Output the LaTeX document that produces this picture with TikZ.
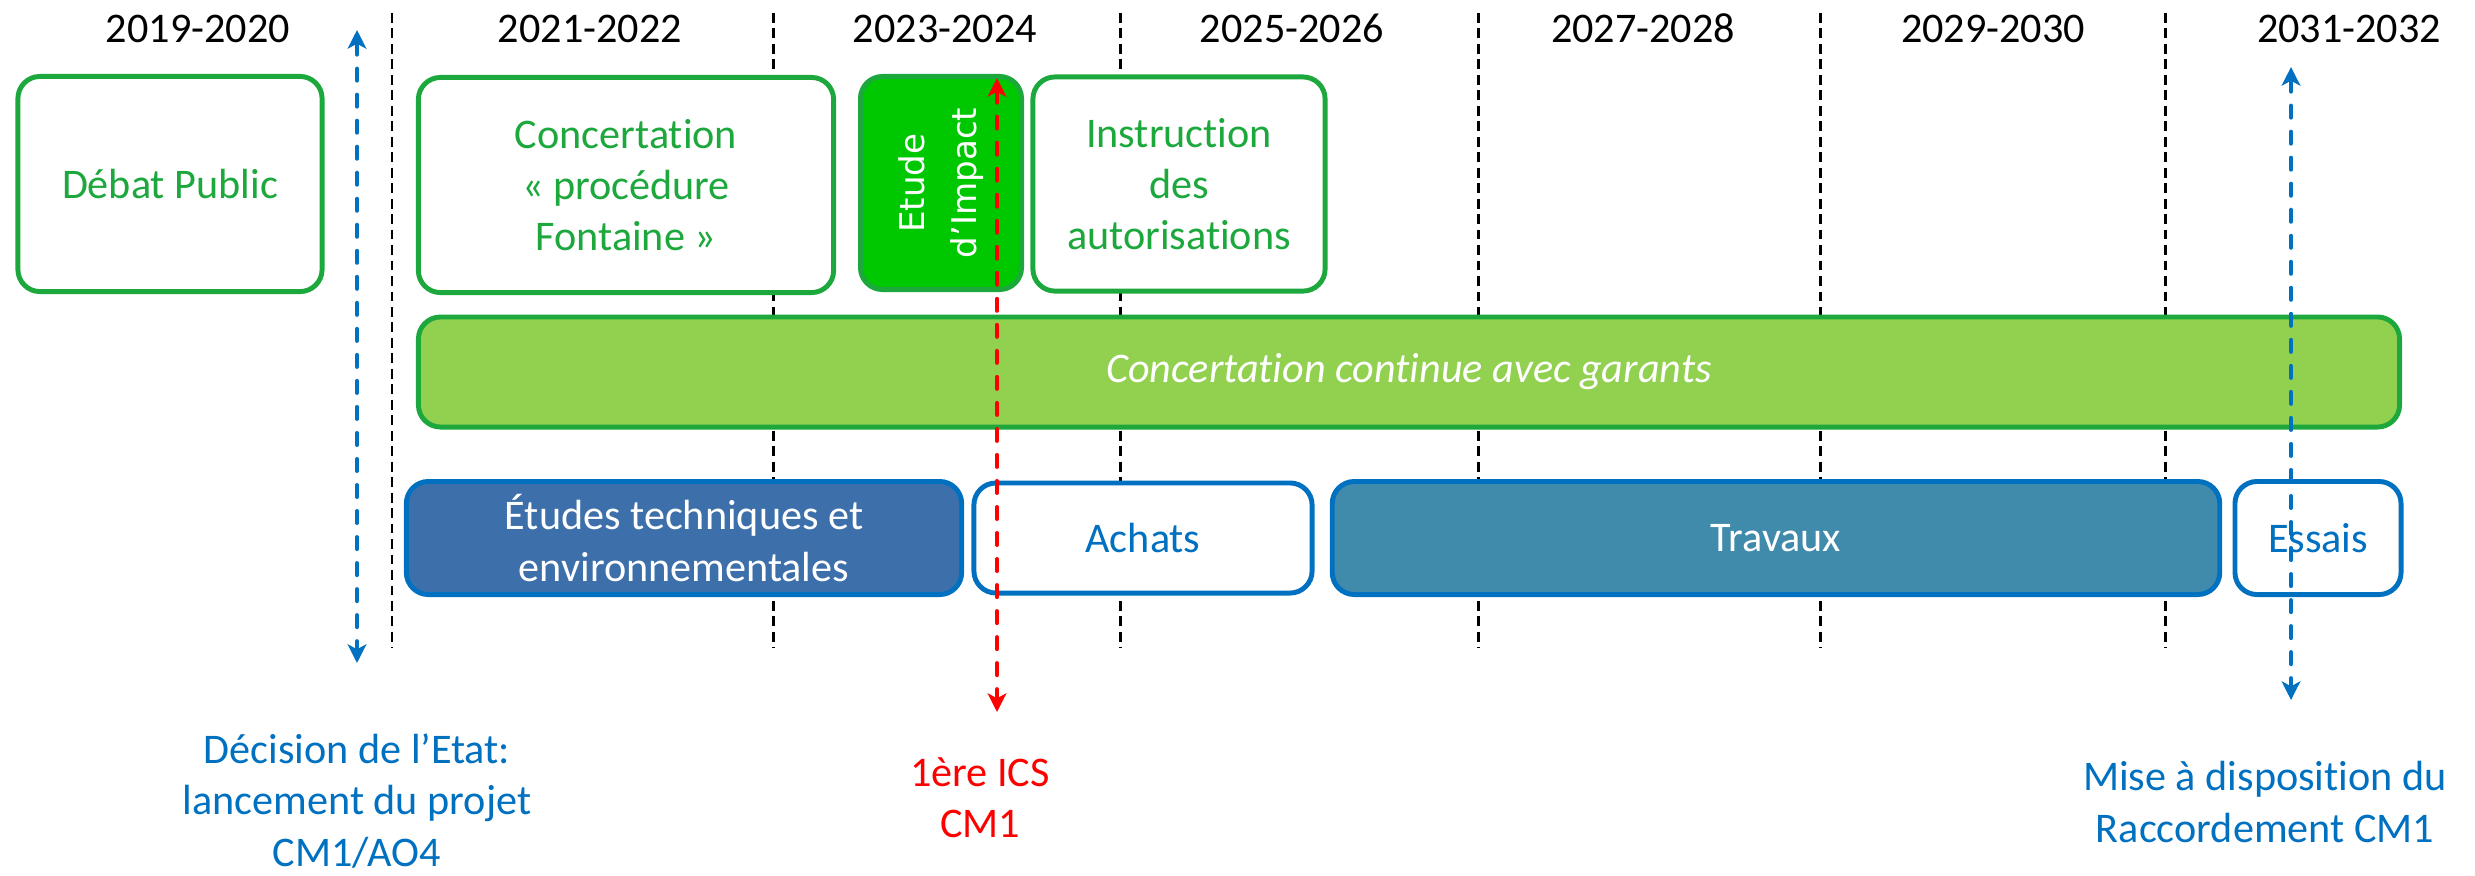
\documentclass[tikz,border=0pt]{standalone}
\usepackage{fontspec}
\setmainfont{Carlito}[Ligatures=NoCommon]
\newfontfamily\sidefont{DejaVu Sans}
\usetikzlibrary{arrows.meta}

\definecolor{phasegreen}{RGB}{28,168,60}
\definecolor{impactgreen}{RGB}{0,200,0}
\definecolor{garantgreen}{RGB}{146,208,80}
\definecolor{phaseblue}{RGB}{0,112,192}
\definecolor{studyblue}{RGB}{61,112,171}
\definecolor{worksblue}{RGB}{64,138,172}
\definecolor{icsred}{RGB}{255,0,0}

\newcommand*\chartfont{\fontsize{12}{14.6}\selectfont}

\tikzset{
  phase/.style={draw, line width=1.4pt, rounded corners=0.22cm, align=center, inner sep=0pt},
  greenphase/.style={phase, draw=phasegreen, fill=white, text=phasegreen},
  bluephase/.style={phase, draw=phaseblue, fill=white, text=phaseblue},
  period/.style={black, line width=0.85pt, dash pattern=on 2.8pt off 1.6pt},
  milestone/.style={line width=1.15pt, line cap=round, dash pattern=on 3.4pt off 4pt,
    >={Stealth[length=5.3pt,width=5.3pt,inset=1.4pt]}, <->},
}

\begin{document}
\begin{tikzpicture}[x=0.01cm, y=-0.01cm, font=\chartfont]
\useasboundingbox (0,0) rectangle (2475,875);

% two-year periods
\foreach \x in {392,773,1120,1478,1820,2165}
  \draw[period] (\x,13) -- (\x,648);
\foreach \x/\yrs [count=\i] in {198/2019-2020, 590/2021-2022, 945/2023-2024,
    1292/2025-2026, 1643/2027-2028, 1993/2029-2030, 2349/2031-2032}
  \node[anchor=base] (years\i) at (\x,42) {\yrs};

% procedure
\node[greenphase, minimum width=3.04cm, minimum height=2.15cm] (debat) at (170,184) {Débat Public};
\node[greenphase, minimum width=4.15cm, minimum height=2.15cm] (fontaine) at (626,185)
  {Concertation\\« procédure\\Fontaine »};
\node[phase, draw=phasegreen, fill=impactgreen, text=white, rotate=90,
  minimum width=2.13cm, minimum height=1.61cm, font=\sidefont\fontsize{9.7}{15}\selectfont]
  (impact) at (941,183) {Etude\\d’Impact};
\node[greenphase, minimum width=2.92cm, minimum height=2.14cm] (instruct) at (1179,184)
  {Instruction\\des\\autorisations};

\node[phase, draw=phasegreen, fill=garantgreen, text=white, font=\chartfont\itshape,
  minimum width=19.8cm, minimum height=1.1cm] (garants) at (1409,372)
  {Concertation continue avec garants};

% project
\node[phase, draw=phaseblue, fill=studyblue, text=white, minimum width=5.55cm, minimum height=1.13cm]
  (etudes) at (684,538) {Études techniques et\\environnementales};
\node[bluephase, minimum width=3.38cm, minimum height=1.1cm] (achats) at (1143,538) {Achats};
\node[phase, draw=phaseblue, fill=worksblue, text=white, minimum width=8.87cm, minimum height=1.13cm]
  (travaux) at (1776,538) {Travaux};
\node[bluephase, minimum width=1.66cm, minimum height=1.13cm] (essais) at (2318,538) {Essais};

% milestones
\coordinate (stateTop) at (357,30);
\coordinate (stateBot) at (357,663);
\coordinate (icsTop) at (997,78);
\coordinate (icsBot) at (997,712);
\coordinate (cmTop) at (2291,67);
\coordinate (cmBot) at (2291,700);

\draw[milestone, phaseblue] (stateTop) -- (stateBot);
\draw[milestone, icsred] (icsTop) -- (icsBot);
\draw[milestone, phaseblue] (cmTop) -- (cmBot);

\node[align=center, text=phaseblue] (state) at (357,801)
  {Décision de l’Etat:\\lancement du projet\\CM1/AO4};
\node[align=center, text=icsred] (ics) at (980,798) {1ère ICS\\CM1};
\node[align=center, text=phaseblue] (cm) at (2265,802) {Mise à disposition du\\Raccordement CM1};
\end{tikzpicture}
\end{document}
